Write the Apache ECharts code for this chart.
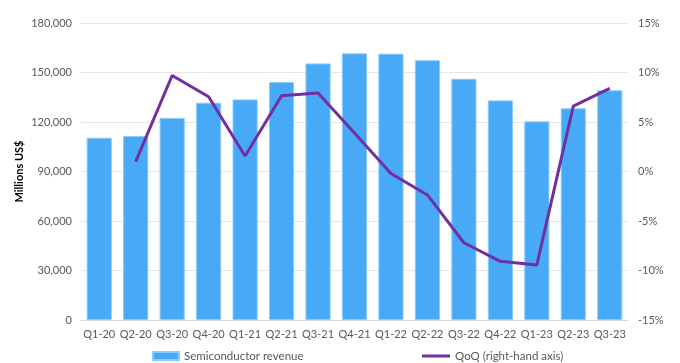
<!DOCTYPE html>
<html><head><meta charset="utf-8">
<script src="https://cdn.jsdelivr.net/npm/echarts@6/dist/echarts.min.js"></script>
<style>html,body{margin:0;padding:0;background:#fff}#c{width:680px;height:363px}</style>
</head><body><div id="c"></div>
<script>
var categories = ['Q1-20','Q2-20','Q3-20','Q4-20','Q1-21','Q2-21','Q3-21','Q4-21','Q1-22','Q2-22','Q3-22','Q4-22','Q1-23','Q2-23','Q3-23'];
var revenue = [110500,111500,122500,131700,133700,144200,155500,161600,161400,157400,146200,133100,120400,128300,139200];
var qoq = [null,0.010,0.097,0.0755,0.0157,0.0766,0.0793,0.039,-0.002,-0.0237,-0.072,-0.0907,-0.0944,0.066,0.084];
var leftTicks = {min:0,max:180000,interval:30000};
var rightTicks = {min:-0.15,max:0.15,interval:0.05};
var font = 'Lato, "Open Sans", sans-serif';
var chart = echarts.init(document.getElementById('c'));
chart.setOption({
  animation:false,
  textStyle:{fontFamily:font},
  grid:{left:81,right:52,top:23,bottom:43},
  legend:[
    {data:[{name:'Semiconductor revenue',icon:'rect'}],left:147,top:345,itemWidth:26,itemHeight:8,itemGap:4,
     textStyle:{color:'#595959',fontSize:11.5,fontFamily:font}},
    {data:[{name:'QoQ (right-hand axis)',icon:'rect'}],left:417,top:345,itemWidth:28,itemHeight:3,
     textStyle:{color:'#595959',fontSize:11.5,fontFamily:font}}
  ],
  xAxis:{type:'category',data:categories,
    axisLine:{lineStyle:{color:'#d9d9d9'}},axisTick:{show:false},
    axisLabel:{color:'#595959',fontSize:11,margin:9,fontFamily:font,interval:0}},
  yAxis:[
    {type:'value',min:leftTicks.min,max:leftTicks.max,interval:leftTicks.interval,
     name:'Millions US$',nameLocation:'middle',nameGap:56,nameRotate:90,nameMoveOverlap:false,
     nameTextStyle:{color:'#000',fontWeight:'bold',fontSize:11,fontFamily:font},
     axisLabel:{color:'#595959',fontSize:11,margin:9,fontFamily:font,
       formatter:function(v){return v.toLocaleString('en-US');}},
     splitLine:{lineStyle:{color:'#e6e6e6'}},axisLine:{show:false},axisTick:{show:false}},
    {type:'value',min:rightTicks.min,max:rightTicks.max,interval:rightTicks.interval,
     axisLabel:{color:'#595959',fontSize:11,margin:10,fontFamily:font,
       formatter:function(v){return Math.round(v*100)+'%';}},
     splitLine:{show:false},axisLine:{show:false},axisTick:{show:false}}
  ],
  series:[
    {name:'Semiconductor revenue',type:'bar',data:revenue,barCategoryGap:'31%',
     itemStyle:{color:'#48AAF6',borderColor:'#8ccbfa',borderWidth:1}},
    {name:'QoQ (right-hand axis)',type:'line',yAxisIndex:1,data:qoq,symbol:'none',
     lineStyle:{color:'#7030A0',width:3},itemStyle:{color:'#7030A0'}}
  ]
});
</script></body></html>
